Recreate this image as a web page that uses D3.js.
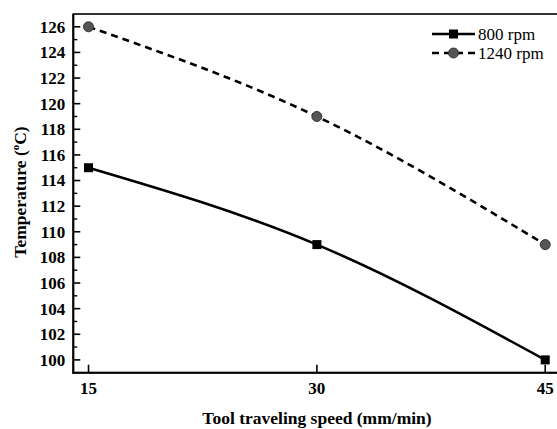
<!DOCTYPE html>
<html><head><meta charset="utf-8">
<script src="https://cdn.jsdelivr.net/npm/d3@7"></script>
<style>body{margin:0;background:#fff}svg{display:block}</style>
</head><body>
<script>
const speeds = [15, 30, 45];
const rpm800 = [115, 109, 100];
const rpm1240 = [126, 119, 109];
const seriesNames = ["800 rpm", "1240 rpm"];
const yTicks = [100,102,104,106,108,110,112,114,116,118,120,122,124,126];
const yMinor = [101,103,105,107,109,111,113,115,117,119,121,123,125];

const W = 557, H = 429;
const m = {l:73.3, t:14, b:372.7};
const svg = d3.select("body").append("svg").attr("width", W).attr("height", H);
const x = d3.scaleLinear().domain([14, 46]).range([m.l, m.l + (546 - 89.3) / 30 * 32]);
const y = d3.scaleLinear().domain([99, 127]).range([m.b, m.t]);
const font = "'Liberation Serif','Times New Roman',serif";

// frame
const xr = x(46);
svg.append("rect").attr("x", m.l).attr("y", m.t).attr("width", xr - m.l).attr("height", m.b - m.t)
  .attr("fill","none").attr("stroke","#000").attr("stroke-width",1.6);
svg.append("line").attr("x1",m.l).attr("x2",m.l).attr("y1",m.t).attr("y2",m.b+1).attr("stroke","#000").attr("stroke-width",2);
svg.append("line").attr("x1",m.l-1).attr("x2",xr).attr("y1",m.b).attr("y2",m.b).attr("stroke","#000").attr("stroke-width",2);

// y ticks
const ga = svg.append("g");
yTicks.forEach(v => {
  ga.append("line").attr("x1",m.l).attr("x2",m.l+7).attr("y1",y(v)).attr("y2",y(v)).attr("stroke","#000").attr("stroke-width",1.6);
  ga.append("text").attr("x",m.l-8).attr("y",y(v)).attr("dy","0.35em").attr("text-anchor","end")
    .attr("font-family",font).attr("font-weight","bold").attr("font-size",17).text(v);
});
yMinor.forEach(v => {
  ga.append("line").attr("x1",m.l).attr("x2",m.l+4).attr("y1",y(v)).attr("y2",y(v)).attr("stroke","#000").attr("stroke-width",1.4);
});
// x ticks
speeds.forEach(v => {
  ga.append("line").attr("x1",x(v)).attr("x2",x(v)).attr("y1",m.b).attr("y2",m.b-8).attr("stroke","#000").attr("stroke-width",1.6);
  ga.append("text").attr("x",x(v)).attr("y",m.b+21).attr("text-anchor","middle")
    .attr("font-family",font).attr("font-weight","bold").attr("font-size",17).text(v);
});

// axis titles
svg.append("text").attr("x",317).attr("y",424).attr("text-anchor","middle")
  .attr("font-family",font).attr("font-weight","bold").attr("font-size",17.5).text("Tool traveling speed (mm/min)");
const yl = svg.append("text").attr("transform","translate(26,192) rotate(-90)").attr("text-anchor","middle")
  .attr("font-family",font).attr("font-weight","bold").attr("font-size",17.5);
yl.append("tspan").text("Temperature (");
yl.append("tspan").attr("dy",-7).attr("font-size",11).text("o");
yl.append("tspan").attr("dy",7).text("C)");

// lines
const line = d3.line().x((d,i)=>x(speeds[i])).y(d=>y(d)).curve(d3.curveNatural);
svg.append("path").datum(rpm800).attr("d",line).attr("fill","none").attr("stroke","#000").attr("stroke-width",2.6);
svg.append("path").datum(rpm1240).attr("d",line).attr("fill","none").attr("stroke","#000").attr("stroke-width",2.6).attr("stroke-dasharray","7,5");

// markers
svg.selectAll(".sq").data(rpm800).enter().append("rect")
  .attr("x",(d,i)=>x(speeds[i])-4.5).attr("y",d=>y(d)-4.5).attr("width",9).attr("height",9).attr("fill","#000");
svg.selectAll(".ci").data(rpm1240).enter().append("circle")
  .attr("cx",(d,i)=>x(speeds[i])).attr("cy",d=>y(d)).attr("r",5).attr("fill","#555").attr("stroke","#333").attr("stroke-width",1);

// legend
const lg = svg.append("g");
lg.append("line").attr("x1",432).attr("x2",475).attr("y1",34).attr("y2",34).attr("stroke","#000").attr("stroke-width",2.6);
lg.append("rect").attr("x",453.5-4.5).attr("y",34-4.5).attr("width",9).attr("height",9).attr("fill","#000");
lg.append("text").attr("x",478).attr("y",34).attr("dy","0.35em").attr("font-family",font).attr("font-size",17).text(seriesNames[0]);
lg.append("line").attr("x1",432).attr("x2",475).attr("y1",53).attr("y2",53).attr("stroke","#000").attr("stroke-width",2.6).attr("stroke-dasharray","7,5");
lg.append("circle").attr("cx",453.5).attr("cy",53).attr("r",5).attr("fill","#555").attr("stroke","#333");
lg.append("text").attr("x",478).attr("y",53).attr("dy","0.35em").attr("font-family",font).attr("font-size",17).text(seriesNames[1]);
</script>
</body></html>
